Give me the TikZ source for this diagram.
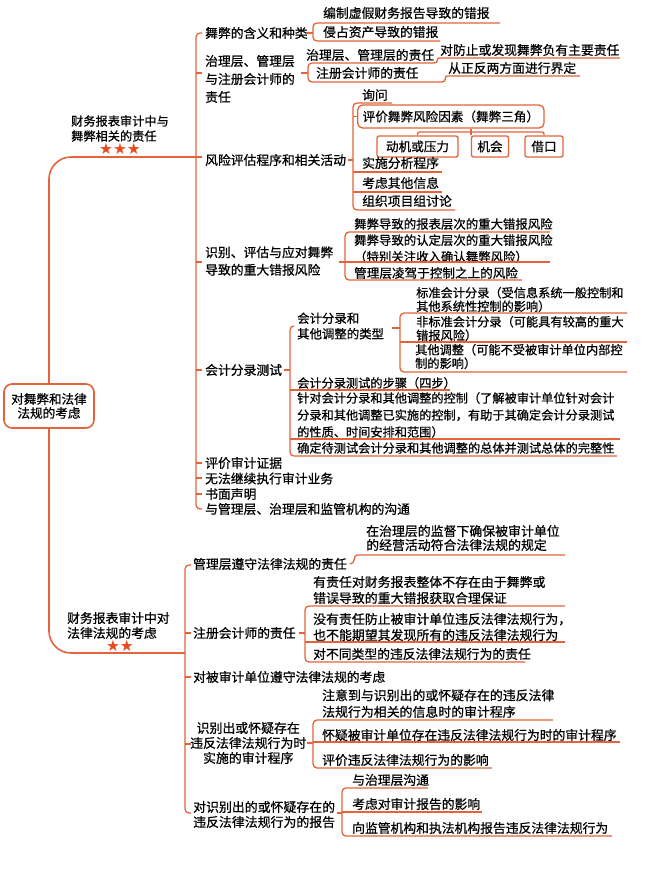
\documentclass[tikz,border=0pt]{standalone}
\usepackage{fontspec}
\setmainfont{Noto Sans CJK SC}[FakeBold=0.7]
\newfontfamily\symfont{DejaVu Sans}
\definecolor{lc}{HTML}{E2633C}
\definecolor{starc}{HTML}{E84A1F}
\newcommand\fa{\fontsize{12.8}{15.5}\selectfont}
\newcommand\fc{\fontsize{12.2}{15}\selectfont}
\begin{document}
\begin{tikzpicture}[x=1pt,y=-1pt,
  ln/.style={draw=lc,line width=1.3pt,rounded corners=4pt},
  mainln/.style={draw=lc,line width=1.6pt,rounded corners=22pt},
  tx/.style={anchor=west,inner sep=0pt,align=left,font=\fa},
  tc/.style={anchor=west,inner sep=0pt,align=left,font=\fc},
  sbox/.style={draw=lc,line width=1.3pt,rounded corners=2pt,inner sep=0pt,minimum height=21pt,font=\fontsize{12.6}{14}\selectfont},
  stars/.style={inner sep=0pt,text=starc,font=\symfont\fontsize{15.5}{16}\selectfont},
]
\useasboundingbox (0,0) rectangle (650,873);

% root
\node[draw=lc,line width=1.6pt,rounded corners=8pt,minimum width=90pt,minimum height=44pt,inner sep=0pt,align=center,font=\fontsize{12.6}{14}\selectfont] (root) at (49,406) {对舞弊和法律\\法规的考虑};
\draw[mainln] (root.north) -- (49,157) -- (202,157);
\draw[mainln] (root.south) -- (49,653) -- (185,653);

% branch labels
\node[tx,font=\fontsize{12.2}{15}\selectfont] (L1) at (71,128.5) {财务报表审计中与\\舞弊相关的责任};
\node[stars] (S1) at (120,148.5) {★★★};
\node[tx,font=\fontsize{12.8}{15}\selectfont] (L2) at (67,625.5) {财务报表审计中对\\法律法规的考虑};
\node[stars] (S2) at (120,646) {★★};

% ===== branch 1 =====
\draw[ln] (202,33) -- (196,33) -- (196,509) -- (202,509);
\foreach \yy in {73,262,370,463,478,494} \draw[ln] (196,\yy) -- (202,\yy);

\node[tx] (b11) at (205,33) {舞弊的含义和种类};
\node[tx,font=\fontsize{12.8}{18}\selectfont] (b12) at (205,79) {治理层、管理层\\与注册会计师的\\责任};
\node[tx] (b13) at (205,160) {风险评估程序和相关活动};
\node[tx,font=\fontsize{12.8}{17.5}\selectfont] (b14) at (205,261) {识别、评估与应对舞弊\\导致的重大错报风险};
\node[tx] (b15) at (205,370) {会计分录测试};
\node[tx] (b16) at (205,463) {评价审计证据};
\node[tx] (b17) at (205,478.5) {无法继续执行审计业务};
\node[tx] (b18) at (205,494) {书面声明};
\node[tx] (b19) at (205,509) {与管理层、治理层和监管机构的沟通};

% group b11
\node[tx] (c111) at (323,13) {编制虚假财务报告导致的错报};
\node[tx] (c112) at (323,32) {侵占资产导致的错报};
\draw[ln] (500,23) -- (313,23) -- (313,41) -- (440,41);
\draw[ln] (307,33) -- (313,33);

% group b12
\node[tx] (c121) at (306,55) {治理层、管理层的责任};
\node[tx] (c122) at (316,73) {注册会计师的责任};
\draw[ln] (434,63) -- (308,63) -- (308,82) -- (442,82);
\draw[ln] (301,73) -- (308,73);
\node[tx] (c1211) at (440,50) {对防止或发现舞弊负有主要责任};
\draw[ln] (434,63) .. controls (439,63) and (436,58) .. (443,58) -- (620,58);
\node[tx] (c1221) at (448,68) {从正反两方面进行界定};
\draw[ln] (442,82) .. controls (447,82) and (444,76) .. (451,76) -- (580,76);

% group b13
\node[tx] (c131) at (362,95) {询问};
\node[draw=lc,line width=1.3pt,rounded corners=5pt,inner xsep=5pt,inner ysep=0pt,minimum height=23pt,font=\fontsize{12.6}{14}\selectfont,anchor=west] (c132) at (357,116.5) {评价舞弊风险因素（舞弊三角）};
\node[sbox,minimum width=81pt] (m1) at (417.5,146.5) {动机或压力};
\node[sbox,minimum width=37pt] (m2) at (490,146.5) {机会};
\node[sbox,minimum width=38pt] (m3) at (544,146.5) {借口};
\coordinate (hy) at (0,132);
\draw[ln] (m2.north west |- c132.south) -- (m2.north west);
\draw[ln,rounded corners=2pt] (m1.north) -- (m1.north |- hy) -- (m3.north |- hy) -- (m3.north);
\draw[ln] (392,103) -- (353,103) -- (353,210) -- (455,210);
\draw[ln] (353,172) -- (442,172);
\draw[ln] (353,192) -- (442,192);
\draw[ln] (353,116.5) -- (c132.west);
\draw[ln] (348,160) -- (353,160);
\node[tx] (c133) at (362,163) {实施分析程序};
\node[tx] (c134) at (362,183) {考虑其他信息};
\node[tx] (c135) at (362,201) {组织项目组讨论};

% group b14
\node[tc,font=\fontsize{12.4}{15}\selectfont] (c141) at (354,224) {舞弊导致的报表层次的重大错报风险};
\node[tc,font=\fontsize{12.4}{16.5}\selectfont] (c142) at (354,248.5) {舞弊导致的认定层次的重大错报风险\\（特别关注收入确认舞弊风险）};
\node[tc,font=\fontsize{12.6}{15}\selectfont] (c143) at (354,273) {管理层凌驾于控制之上的风险};
\draw[ln] (550,232) -- (345,232) -- (345,280) -- (522,280);
\draw[ln] (339,262) -- (550,262);

% group b15
\node[tc,font=\fontsize{12.4}{15.5}\selectfont] (c151) at (297,326) {会计分录和\\其他调整的类型};
\node[tc,font=\fontsize{12.2}{13.5}\selectfont] (c1511) at (416,299.5) {标准会计分录（受信息系统一般控制和\\其他系统性控制的影响）};
\node[tc,font=\fontsize{12.2}{13.5}\selectfont] (c1512) at (416,328.5) {非标准会计分录（可能具有较高的重大\\错报风险）};
\node[tc,font=\fontsize{12.2}{13.5}\selectfont] (c1513) at (415,356.5) {其他调整（可能不受被审计单位内部控\\制的影响）};
\draw[ln] (627,313) -- (400,313) -- (400,372) -- (627,372);
\draw[ln] (400,342) -- (627,342);
\draw[ln] (392,328) -- (400,328);
\node[tc] (c152) at (297,383) {会计分录测试的步骤（四步）};
\node[tc,font=\fontsize{12.2}{17}\selectfont] (c153) at (297,415) {针对会计分录和其他调整的控制（了解被审计单位针对会计\\分录和其他调整已实施的控制，有助于其确定会计分录测试\\的性质、时间安排和范围）};
\node[tc] (c154) at (297,448) {确定待测试会计分录和其他调整的总体并测试总体的完整性};
\draw[ln] (294,326) -- (290,326) -- (290,456) -- (617,456);
\draw[ln] (290,390) -- (450,390);
\draw[ln] (290,439) -- (620,439);
\draw[ln] (284,370) -- (290,370);

% ===== branch 2 =====
\draw[ln] (191,565) -- (185,565) -- (185,813) -- (191,813);
\foreach \yy in {633,677,744} \draw[ln] (185,\yy) -- (191,\yy);

\node[tx] (d1) at (193,564) {管理层遵守法律法规的责任};
\node[tx,font=\fontsize{12.9}{14}\selectfont] (e11) at (366,538) {在治理层的监督下确保被审计单位\\的经营活动符合法律法规的规定};
\draw[ln] (350,564) .. controls (356,564) and (353,555) .. (361,555) -- (565,555);

\node[tx] (d2) at (193,633) {注册会计师的责任};
\node[tx,font=\fontsize{12.9}{16}\selectfont] (e21) at (313,590) {有责任对财务报表整体不存在由于舞弊或\\错误导致的重大错报获取合理保证};
\node[tx,font=\fontsize{12.9}{16}\selectfont] (e22) at (313,627) {没有责任防止被审计单位违反法律法规行为，\\也不能期望其发现所有的违反法律法规行为};
\node[tx] (e23) at (313,654) {对不同类型的违反法律法规行为的责任};
\draw[ln] (565,606) -- (305,606) -- (305,662) -- (525,662);
\draw[ln] (305,642) -- (565,642);
\draw[ln] (299,633) -- (305,633);

\node[tx] (d3) at (193,677) {对被审计单位遵守法律法规的考虑};

\node[anchor=west,inner sep=0pt,align=center,font=\fontsize{12.9}{15}\selectfont] (d4) at (190,743) {识别出或怀疑存在\\违反法律法规行为时\\实施的审计程序};
\node[tx,font=\fontsize{12.9}{16.5}\selectfont] (f41) at (322,703.5) {注意到与识别出的或怀疑存在的违反法律\\法规行为相关的信息时的审计程序};
\node[tx] (f42) at (322,735) {怀疑被审计单位存在违反法律法规行为时的审计程序};
\node[tx] (f43) at (322,760) {评价违反法律法规行为的影响};
\draw[ln] (553,720) -- (313,720) -- (313,768) -- (492,768);
\draw[ln] (313,742) -- (620,742);
\draw[ln] (307,743) -- (313,743);

\node[anchor=west,inner sep=0pt,align=center,font=\fontsize{12.9}{15}\selectfont] (d5) at (193,814.5) {对识别出的或怀疑存在的\\违反法律法规行为的报告};
\node[tx] (g51) at (352,780) {与治理层沟通};
\node[tx] (g52) at (352,804) {考虑对审计报告的影响};
\node[tx] (g53) at (352,828) {向监管机构和执法机构报告违反法律法规行为};
\draw[ln] (428,788) -- (342,788) -- (342,836) -- (612,836);
\draw[ln] (342,812) -- (482,812);
\draw[ln] (337,813) -- (342,813);
\end{tikzpicture}
\end{document}
